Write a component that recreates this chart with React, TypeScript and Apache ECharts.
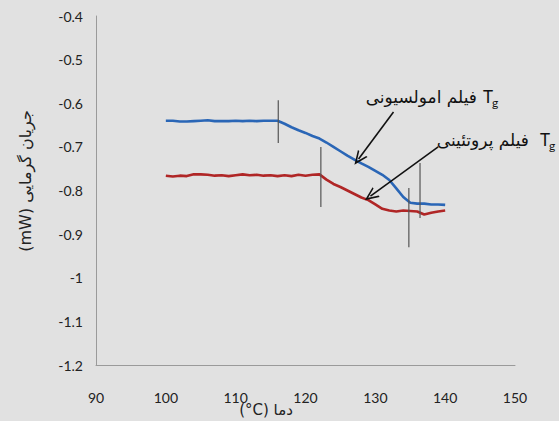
import React, { useEffect, useRef } from "react";
import * as echarts from "echarts";

const temps = [100,101,102,103,104,105,106,107,108,109,110,111,112,113,114,115,116,117,118,119,120,121,122,123,124,125,126,127,128,129,130,131,132,133,134,135,136,137,138,139,140];
const emulsionFilm = [-0.640,-0.640,-0.642,-0.642,-0.641,-0.640,-0.639,-0.641,-0.641,-0.641,-0.640,-0.641,-0.640,-0.641,-0.640,-0.640,-0.640,-0.647,-0.655,-0.662,-0.668,-0.675,-0.681,-0.690,-0.700,-0.710,-0.720,-0.729,-0.738,-0.746,-0.755,-0.764,-0.776,-0.795,-0.815,-0.828,-0.830,-0.830,-0.832,-0.832,-0.833];
const proteinFilm = [-0.766,-0.768,-0.766,-0.767,-0.763,-0.763,-0.764,-0.766,-0.765,-0.767,-0.765,-0.763,-0.765,-0.764,-0.766,-0.765,-0.767,-0.765,-0.767,-0.764,-0.766,-0.764,-0.763,-0.775,-0.785,-0.792,-0.800,-0.808,-0.816,-0.822,-0.832,-0.842,-0.846,-0.848,-0.846,-0.847,-0.848,-0.855,-0.851,-0.848,-0.846];

// Tg marker lines: [x, yTop, yBottom]
const tgMarkers = [
  [116.1, -0.593, -0.691],
  [122.2, -0.700, -0.838],
  [136.4, -0.737, -0.863],
  [134.8, -0.794, -0.930],
];

// arrows: [xFrom, yFrom, xTo, yTo]
const arrows = [
  [132.6, -0.620, 127.6, -0.728],
  [139.0, -0.700, 129.3, -0.813],
];

const xTicks = { min: 90, max: 150, interval: 10 };
const yTicks = { min: -1.2, max: -0.4, interval: 0.1 };

const labelEmulsion = "فیلم امولسیونی";
const labelProtein = "فیلم پروتئینی";
const xTitle = "(°C) دما";
const yTitle = "(mW) جریان گرمایی";

export default function App() {
  const ref = useRef<HTMLDivElement>(null);
  useEffect(() => {
    if (!ref.current) return;
    const chart = echarts.init(ref.current, null, { renderer: "svg" });
    const latin = "Lato, 'Open Sans', sans-serif";
    const arabic = "'DejaVu Sans', sans-serif";
    const arrowPath = "path://M5,0 L10,12 L8.6,12 L5,3.6 L1.4,12 L0,12 Z";
    const series: any[] = [
      {
        type: "line",
        data: temps.map((t, i) => [t, emulsionFilm[i]]),
        showSymbol: false,
        lineStyle: { color: "#2a66b6", width: 2.6 },
        itemStyle: { color: "#2a66b6" },
        z: 3,
        markLine: {
          silent: true,
          symbol: ["none", arrowPath],
          symbolSize: [12, 14],
          label: { show: false },
          lineStyle: { color: "#111", width: 1.6, type: "solid" },
          data: arrows.map((a) => [
            { coord: [a[0], a[1]] },
            { coord: [a[2], a[3]] },
          ]),
        },
      },
      {
        type: "line",
        data: temps.map((t, i) => [t, proteinFilm[i]]),
        showSymbol: false,
        lineStyle: { color: "#b02626", width: 2.6 },
        itemStyle: { color: "#b02626" },
        z: 3,
      },
      ...tgMarkers.map((m) => ({
        type: "line",
        data: [[m[0], m[1]], [m[0], m[2]]],
        showSymbol: false,
        lineStyle: { color: "#555", width: 1.2 },
        z: 4,
      })),
    ];
    chart.setOption({
      animation: false,
      backgroundColor: "#e1e1e1",
      grid: { left: 96, right: 44, top: 16, bottom: 56 },
      xAxis: {
        type: "value",
        min: xTicks.min,
        max: xTicks.max,
        interval: xTicks.interval,
        axisLine: { show: true, lineStyle: { color: "#9a9a9a", width: 1 } },
        axisTick: { show: false },
        splitLine: { show: false },
        axisLabel: { color: "#222", fontSize: 14, fontFamily: latin, margin: 25 },
      },
      yAxis: {
        type: "value",
        min: yTicks.min,
        max: yTicks.max,
        interval: yTicks.interval,
        axisLine: { show: true, lineStyle: { color: "#9a9a9a", width: 1 } },
        axisTick: { show: false },
        splitLine: { show: false },
        axisLabel: {
          color: "#222",
          fontSize: 14,
          fontFamily: latin,
          margin: 13,
          formatter: (v: number) => String(Math.round(v * 10) / 10),
        },
      },
      series,
      graphic: [
        {
          type: "text",
          x: 266,
          y: 410,
          style: { text: xTitle, fill: "#222", font: `15px ${arabic}`, align: "center", verticalAlign: "middle" },
        },
        {
          type: "text",
          x: 25,
          y: 181,
          rotation: Math.PI / 2,
          style: { text: yTitle, fill: "#222", font: `16px ${arabic}`, align: "center", verticalAlign: "middle" },
        },
        {
          type: "text",
          x: 477,
          y: 97,
          style: { text: labelEmulsion, fill: "#111", font: `17px ${arabic}`, align: "right", verticalAlign: "middle" },
        },
        {
          type: "text",
          x: 483,
          y: 96,
          style: { text: "T", fill: "#111", font: `17px ${latin}`, align: "left", verticalAlign: "middle" },
        },
        {
          type: "text",
          x: 492,
          y: 102,
          style: { text: "g", fill: "#111", font: `12px ${latin}`, align: "left", verticalAlign: "middle" },
        },
        {
          type: "text",
          x: 529,
          y: 140,
          style: { text: labelProtein, fill: "#111", font: `17px ${arabic}`, align: "right", verticalAlign: "middle" },
        },
        {
          type: "text",
          x: 540,
          y: 139,
          style: { text: "T", fill: "#111", font: `17px ${latin}`, align: "left", verticalAlign: "middle" },
        },
        {
          type: "text",
          x: 549,
          y: 145,
          style: { text: "g", fill: "#111", font: `12px ${latin}`, align: "left", verticalAlign: "middle" },
        },
      ],
    });
    return () => chart.dispose();
  }, []);
  return (
    <div
      ref={ref}
      style={{ position: "absolute", left: 0, top: 0, width: 559, height: 421 }}
    />
  );
}
